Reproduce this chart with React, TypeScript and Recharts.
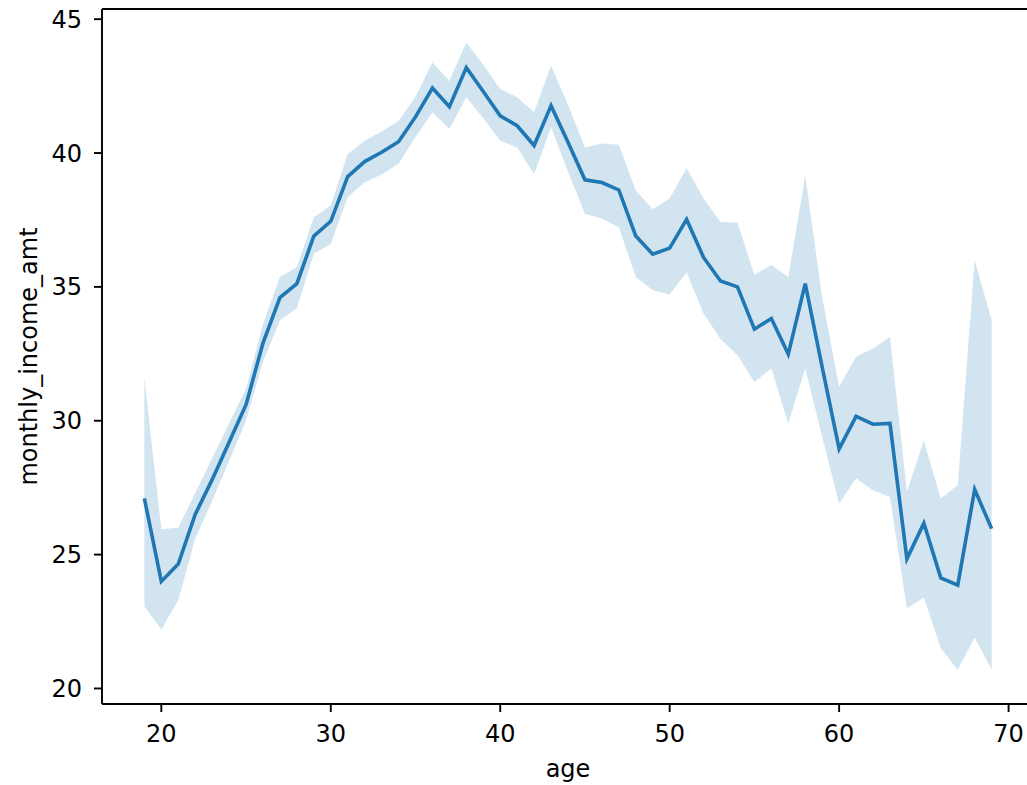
import React from 'react';
import { ComposedChart, Line, Area, XAxis, YAxis, ReferenceLine } from 'recharts';

const ages = [19, 20, 21, 22, 23, 24, 25, 26, 27, 28, 29, 30, 31, 32, 33, 34, 35, 36, 37, 38, 39, 40, 41, 42, 43, 44, 45, 46, 47, 48, 49, 50, 51, 52, 53, 54, 55, 56, 57, 58, 59, 60, 61, 62, 63, 64, 65, 66, 67, 68, 69];

const incomeMean = [27.1, 24.0, 24.65, 26.5, 27.8, 29.2, 30.6, 32.9, 34.6, 35.12, 36.9, 37.45, 39.12, 39.68, 40.03, 40.42, 41.35, 42.43, 41.73, 43.19, 42.3, 41.39, 41.02, 40.28, 41.77, 40.4, 39.0, 38.9, 38.62, 36.9, 36.22, 36.45, 37.52, 36.1, 35.22, 35.0, 33.42, 33.82, 32.49, 35.12, 32.0, 28.95, 30.16, 29.87, 29.9, 24.84, 26.17, 24.13, 23.86, 27.43, 25.97];

const ciHigh = [31.6, 25.95, 26.0, 27.3, 28.6, 29.9, 31.2, 33.6, 35.37, 35.74, 37.6, 38.04, 39.96, 40.46, 40.8, 41.2, 42.1, 43.38, 42.7, 44.13, 43.3, 42.39, 42.08, 41.52, 43.26, 41.8, 40.2, 40.36, 40.31, 38.6, 37.9, 38.3, 39.44, 38.3, 37.42, 37.4, 35.45, 35.82, 35.37, 39.16, 34.6, 31.27, 32.39, 32.7, 33.13, 27.35, 29.25, 27.1, 27.6, 36.0, 33.75];

const ciLow = [23.07, 22.2, 23.3, 25.6, 27.0, 28.5, 30.0, 32.2, 33.75, 34.2, 36.24, 36.6, 38.35, 38.91, 39.2, 39.6, 40.6, 41.52, 40.9, 42.08, 41.3, 40.46, 40.21, 39.22, 40.96, 39.3, 37.73, 37.55, 37.23, 35.37, 34.87, 34.72, 35.55, 34.0, 33.05, 32.45, 31.45, 31.95, 29.9, 31.95, 29.4, 26.9, 27.85, 27.4, 27.15, 23.0, 23.4, 21.5, 20.7, 21.9, 20.7];

const xTicks = [20, 30, 40, 50, 60, 70];
const yTicks = [20, 25, 30, 35, 40, 45];
const xDomain = [16.5, 71.5];
const yDomain = [19.42, 45.38];

const data = ages.map((age, i) => ({
  age,
  mean: incomeMean[i],
  band: [ciLow[i], ciHigh[i]],
}));

const FONT = 'DejaVu Sans';
const tickStyle = { fill: '#000', fontSize: 24, fontFamily: FONT };

export default function App() {
  return (
    <div style={{ position: 'absolute', left: 0, top: 0, width: 1027, height: 785, overflow: 'hidden', background: '#fff' }}>
      <ComposedChart
        width={1040}
        height={785}
        data={data}
        margin={{ top: 9, right: 6, bottom: 0, left: 0 }}
      >
        <XAxis
          dataKey="age"
          type="number"
          domain={xDomain}
          allowDataOverflow
          ticks={xTicks}
          height={81}
          tick={tickStyle}
          tickSize={8}
          tickMargin={13}
          axisLine={{ stroke: '#000', strokeWidth: 1.9 }}
          tickLine={{ stroke: '#000', strokeWidth: 1.9 }}
          label={{ value: 'age', position: 'insideBottom', offset: 8, fill: '#000', fontSize: 24, fontFamily: FONT }}
        />
        <YAxis
          type="number"
          domain={yDomain}
          allowDataOverflow
          ticks={yTicks}
          width={102}
          tick={tickStyle}
          tickSize={8}
          tickMargin={12}
          axisLine={{ stroke: '#000', strokeWidth: 1.9 }}
          tickLine={{ stroke: '#000', strokeWidth: 1.9 }}
          label={{
            value: 'monthly_income_amt',
            angle: -90,
            position: 'insideLeft',
            offset: 28,
            fill: '#000',
            fontSize: 24,
            fontFamily: FONT,
            style: { textAnchor: 'middle' },
          }}
        />
        <Area
          dataKey="band"
          type="linear"
          stroke="none"
          fill="#1f77b4"
          fillOpacity={0.2}
          isAnimationActive={false}
          activeDot={false}
        />
        <Line
          dataKey="mean"
          type="linear"
          stroke="#1f77b4"
          strokeWidth={3.6}
          dot={false}
          activeDot={false}
          isAnimationActive={false}
        />
        <ReferenceLine y={yDomain[1]} stroke="#000" strokeWidth={1.9} />
      </ComposedChart>
    </div>
  );
}
